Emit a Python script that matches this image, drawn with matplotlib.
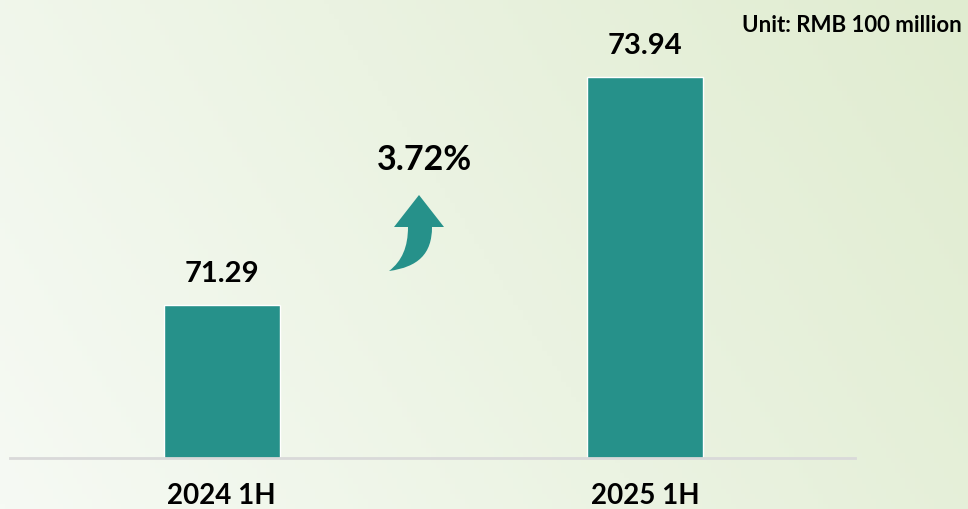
import numpy as np
import matplotlib.pyplot as plt
from matplotlib.path import Path
from matplotlib.patches import PathPatch
from matplotlib.transforms import Affine2D

categories = ['2024 1H', '2025 1H']
values = [71.29, 73.94]
growth_label = '3.72%'
unit_label = 'Unit: RMB 100 million'

W, H = 968, 510
plt.rcParams['font.family'] = ['Lato', 'DejaVu Sans']

fig = plt.figure(figsize=(W / 100, H / 100), dpi=100)

# background gradient (white-ish left -> pale green right)
bg = fig.add_axes([0, 0, 1, 1], zorder=0)
gx = np.linspace(0, 1, 200)
gy = np.linspace(0, 1, 100)
X, Y = np.meshgrid(gx, gy)
t = np.clip(0.75 * X + 0.25 * Y, 0, 1)[..., None]
c0 = np.array([246, 250, 244]) / 255
c1 = np.array([224, 236, 208]) / 255
img = c0 * (1 - t) + c1 * t
bg.imshow(img, origin='lower', aspect='auto', extent=[0, 1, 0, 1])
bg.axis('off')

# main axes: baseline at y=459px, spans x 10..855px
ax = fig.add_axes([10 / W, 51 / H, 845 / W, 459 / H], zorder=1)
ax.patch.set_alpha(0)
x = np.arange(len(categories))
ax.bar(x, values, width=0.274, color='#26918A', edgecolor='white', linewidth=1, zorder=2)
ax.set_xlim(-0.5, 1.495)
ax.set_ylim(69.51, 74.85)
for s in ['top', 'right', 'left']:
    ax.spines[s].set_visible(False)
ax.spines['bottom'].set_color('#D9D9D9')
ax.spines['bottom'].set_linewidth(2)
ax.set_yticks([])
ax.set_xticks(x)
ax.set_xticklabels(categories, fontsize=20, fontweight='bold')
ax.tick_params(axis='x', length=0, pad=17)

for xi, v in zip(x, values):
    ax.annotate(f'{v:.2f}', (xi, v), xytext=(0, 14), textcoords='offset points',
                ha='center', va='bottom', fontsize=21, fontweight='bold', color='black')

fig.text(424 / W, 1 - 160 / H, growth_label, ha='center', va='center',
         fontsize=24.5, fontweight='bold')
fig.text(962 / W, 1 - 25 / H, unit_label, ha='right', va='center',
         fontsize=16, fontweight='bold')

# curved up arrow, drawn in pixel coords (y from top)
verts = [(408, 228), (394, 228), (419, 196), (444, 228), (432, 228),
         (432, 255), (418, 268), (389, 272),
         (402, 262), (408, 248), (408, 228), (408, 228)]
codes = [Path.MOVETO, Path.LINETO, Path.LINETO, Path.LINETO, Path.LINETO,
         Path.CURVE4, Path.CURVE4, Path.CURVE4,
         Path.CURVE4, Path.CURVE4, Path.CURVE4, Path.CLOSEPOLY]
tr = Affine2D().scale(1 / W, -1 / H).translate(0, 1) + fig.transFigure
fig.patches.append(PathPatch(Path(verts, codes), facecolor='#26918A', edgecolor='none',
                             transform=tr, zorder=3))

fig.savefig('out.png', dpi=100)
